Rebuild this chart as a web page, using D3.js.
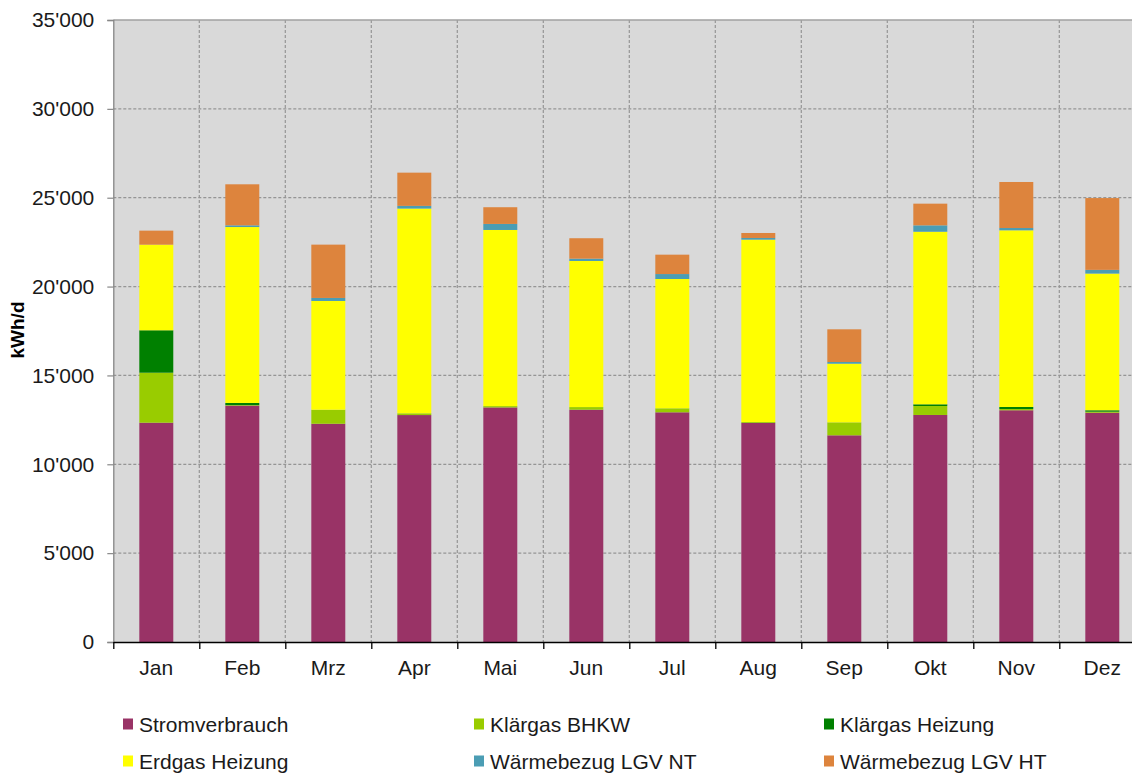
<!DOCTYPE html>
<html>
<head>
<meta charset="utf-8">
<script src="https://cdn.jsdelivr.net/npm/d3@7"></script>
<style>
  html, body { margin: 0; padding: 0; background: #fff; overflow: hidden; }
  svg { display: block; font-family: "Liberation Sans", Arial, sans-serif; }
</style>
</head>
<body>
<svg id="chart" width="1132" height="773"></svg>
<script>
// ---- data ----
const months = ["Jan","Feb","Mrz","Apr","Mai","Jun","Jul","Aug","Sep","Okt","Nov","Dez"];
const seriesNames = ["Stromverbrauch","Klärgas BHKW","Klärgas Heizung","Erdgas Heizung","Wärmebezug LGV NT","Wärmebezug LGV HT"];
const stromverbrauch = [12340,13300,12280,12770,13200,13070,12925,12330,11630,12775,13040,12900];
const klaergasBHKW   = [2814,30,790,100,75,150,225,50,730,505,70,60];
const klaergasHeizung= [2386,120,0,0,0,0,0,0,0,95,115,80];
const erdgasHeizung  = [4817,9900,6120,11520,9910,8220,7275,10260,3300,9710,9940,7690];
const waermeLGVNT    = [0,95,170,150,340,130,280,95,95,360,130,210];
const waermeLGVHT    = [790,2310,3000,1870,940,1150,1090,280,1840,1220,2590,4040];
const yTicks = [0,5000,10000,15000,20000,25000,30000,35000];
const colors = ["#993366","#99cc00","#008000","#ffff00","#4b9db4","#dd843d"];

const seriesValues = [stromverbrauch, klaergasBHKW, klaergasHeizung, erdgasHeizung, waermeLGVNT, waermeLGVHT];
const keys = seriesNames;
const table = months.map((m, i) => {
  const row = { month: m };
  keys.forEach((k, j) => row[k] = seriesValues[j][i]);
  return row;
});

// ---- layout ----
const svg = d3.select("#chart");
const pL = 113.3, pR = 1145.3, pT = 20, pB = 642;

const x = d3.scaleBand().domain(months).range([pL, pR]).padding(0);
const y = d3.scaleLinear().domain([0, 35000]).range([pB, pT]);
const loc = d3.formatLocale({ decimal: ".", thousands: "'", grouping: [3], currency: ["", ""] });
const fmt = loc.format(",");

// background
svg.append("rect").attr("x", pL).attr("y", pT)
  .attr("width", pR - pL).attr("height", pB - pT)
  .attr("fill", "#d9d9d9");

// horizontal grid
svg.append("g").selectAll("line").data(yTicks.filter(t => t > 0 && t < 35000)).join("line")
  .attr("x1", pL).attr("x2", pR)
  .attr("y1", d => y(d)).attr("y2", d => y(d))
  .attr("stroke", "#959595").attr("stroke-width", 1.2).attr("stroke-dasharray", "3,2");

// vertical grid (category boundaries)
svg.append("g").selectAll("line").data(months.slice(1)).join("line")
  .attr("x1", d => x(d)).attr("x2", d => x(d))
  .attr("y1", pT).attr("y2", pB)
  .attr("stroke", "#959595").attr("stroke-width", 1.2).attr("stroke-dasharray", "3,2");

// top border
svg.append("line").attr("x1", pL).attr("x2", pR).attr("y1", pT).attr("y2", pT)
  .attr("stroke", "#a0a0a0").attr("stroke-width", 1.3);

// bars
const stack = d3.stack().keys(keys)(table);
const bw = x.bandwidth() * 0.395;
svg.append("g").selectAll("g").data(stack).join("g")
  .attr("fill", (d, i) => colors[i])
  .selectAll("rect").data(d => d).join("rect")
  .attr("x", d => x(d.data.month) + (x.bandwidth() - bw) / 2)
  .attr("width", bw)
  .attr("y", d => y(d[1]))
  .attr("height", d => Math.max(0, y(d[0]) - y(d[1])));

// y axis
const yAxis = svg.append("g").attr("transform", `translate(${pL},0)`)
  .call(d3.axisLeft(y).tickValues(yTicks).tickFormat(fmt).tickSize(6).tickPadding(13));
yAxis.select(".domain").attr("stroke", "#888").attr("stroke-width", 1.3);
yAxis.selectAll(".tick line").attr("stroke", "#888").attr("stroke-width", 1.2);
yAxis.selectAll(".tick text").attr("font-size", 21).attr("fill", "#1a1a1a")
  .attr("font-family", "Liberation Sans, Arial, sans-serif");

// x axis
const xb = d3.scaleLinear().domain([0, months.length]).range([pL, pR]);
const xAxis = svg.append("g").attr("transform", `translate(0,${pB})`)
  .call(d3.axisBottom(xb).tickValues(d3.range(0, months.length + 1)).tickFormat("").tickSize(7).tickSizeOuter(0));
xAxis.select(".domain").attr("stroke", "#000").attr("stroke-width", 1.3);
xAxis.selectAll(".tick line").attr("stroke", "#000").attr("stroke-width", 1.3);

svg.append("g").selectAll("text").data(months).join("text")
  .attr("x", d => x(d) + x.bandwidth() / 2)
  .attr("y", 675)
  .attr("text-anchor", "middle")
  .attr("font-size", 21).attr("fill", "#1a1a1a")
  .text(d => d);

// y title
svg.append("text")
  .attr("transform", "translate(24,330) rotate(-90)")
  .attr("text-anchor", "middle")
  .attr("font-size", 19).attr("font-weight", "bold").attr("fill", "#000")
  .text("kWh/d");

// legend
const legX = [123, 474, 824];
const legY = [724, 761];
const leg = svg.append("g").selectAll("g").data(seriesNames).join("g")
  .attr("transform", (d, i) => `translate(${legX[i % 3]},${legY[Math.floor(i / 3)]})`);
leg.append("rect").attr("x", 0).attr("y", -5.5).attr("width", 10).attr("height", 11)
  .attr("fill", (d, i) => colors[i]);
leg.append("text").attr("x", 16).attr("y", 7.5)
  .attr("font-size", 21).attr("fill", "#1a1a1a")
  .text(d => d);
</script>
</body>
</html>
